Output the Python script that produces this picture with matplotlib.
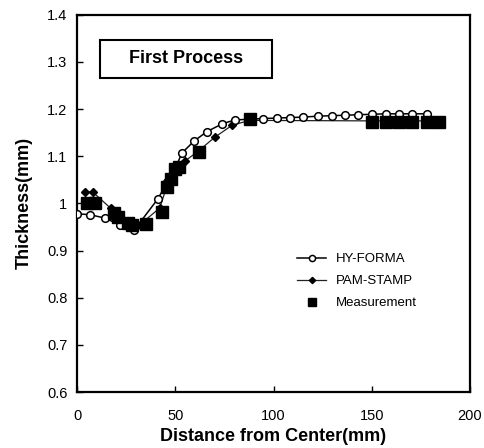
"""Thickness distribution after the first forming process."""

import matplotlib

matplotlib.use("Agg")
import matplotlib.pyplot as plt  # noqa: E402
from matplotlib.patches import Rectangle  # noqa: E402

INK = "#000000"

# HY-FORMA simulation (open circles)
hy_x = [0, 6.6, 14, 22, 29, 41, 46, 50, 53.4, 59.5, 66, 74, 80.4, 94.7, 101.8,
        108.4, 115, 122.6, 129.8, 136.4, 143, 150, 157.3, 163.9, 170.5, 178]
hy_y = [0.978, 0.976, 0.969, 0.954, 0.943, 1.009, 1.045, 1.075, 1.107, 1.132,
        1.152, 1.169, 1.177, 1.180, 1.181, 1.182, 1.183, 1.185, 1.186, 1.187,
        1.188, 1.189, 1.190, 1.190, 1.190, 1.190]

# PAM-STAMP simulation (small filled diamonds)
pam_x = [4, 8, 17, 22, 27, 32, 42, 46, 50, 55, 62, 70, 79, 88, 150, 184]
pam_y = [1.024, 1.024, 0.990, 0.970, 0.955, 0.955, 0.990, 1.040, 1.070, 1.090,
         1.112, 1.140, 1.166, 1.176, 1.175, 1.175]

# Measurement (filled squares)
meas_x = [5, 9, 19, 21, 26, 28, 35, 43, 46, 48, 50, 52, 62, 88, 150, 157, 164,
          170.5, 178, 184]
meas_y = [1.000, 1.000, 0.980, 0.972, 0.958, 0.954, 0.957, 0.982, 1.035, 1.052,
          1.072, 1.078, 1.109, 1.178, 1.172, 1.172, 1.172, 1.172, 1.172, 1.172]

x_ticks = [0, 50, 100, 150, 200]
y_ticks = [0.6, 0.7, 0.8, 0.9, 1.0, 1.1, 1.2, 1.3, 1.4]
y_labels = ["0.6", "0.7", "0.8", "0.9", "1", "1.1", "1.2", "1.3", "1.4"]

plt.rcParams.update({
    "font.family": ["Liberation Sans", "DejaVu Sans"],
    "text.color": INK, "axes.edgecolor": INK,
    "xtick.color": INK, "ytick.color": INK,
})

fig = plt.figure(figsize=(4.85, 4.48), dpi=100)
ax = fig.add_axes([0.159, 0.125, 0.81, 0.842])

ax.plot(pam_x, pam_y, color="#222222", lw=0.9, marker="D", ms=4,
        mfc=INK, mec=INK, label="PAM-STAMP", zorder=2)
ax.plot(hy_x, hy_y, color=INK, lw=1.1, marker="o", ms=5.5,
        mfc="white", mec=INK, mew=1.1, label="HY-FORMA", zorder=3)
ax.plot(meas_x, meas_y, ls="none", marker="s", ms=8, color=INK,
        label="Measurement", zorder=4)

ax.set_xlim(0, 200)
ax.set_ylim(0.6, 1.4)
ax.set_xticks(x_ticks)
ax.set_yticks(y_ticks)
ax.set_yticklabels(y_labels)
ax.tick_params(direction="in", length=4, width=1, labelsize=10.5)
ax.tick_params(axis="x", pad=12)
ax.tick_params(axis="y", pad=7)
for s in ax.spines.values():
    s.set_linewidth(1.6)

ax.set_xlabel("Distance from Center(mm)", fontsize=13, fontweight="bold",
              labelpad=4)
ax.set_ylabel("Thickness(mm)", fontsize=13, fontweight="bold", labelpad=10)

# title box
ax.add_patch(Rectangle((0.059, 0.833), 0.437, 0.101, transform=ax.transAxes,
                       fc="white", ec=INK, lw=1.5, zorder=5))
ax.text(0.277, 0.883, "First Process", transform=ax.transAxes, fontsize=13,
        fontweight="bold", ha="center", va="center", zorder=6)

h, lab = ax.get_legend_handles_labels()
order = [1, 0, 2]
ax.legend([h[i] for i in order], [lab[i] for i in order],
          loc="upper left", bbox_to_anchor=(0.53, 0.40), frameon=False,
          fontsize=9.5, handlelength=2.2, handletextpad=0.7,
          labelspacing=0.75, markerscale=0.8)

fig.savefig("out.png", dpi=100)
